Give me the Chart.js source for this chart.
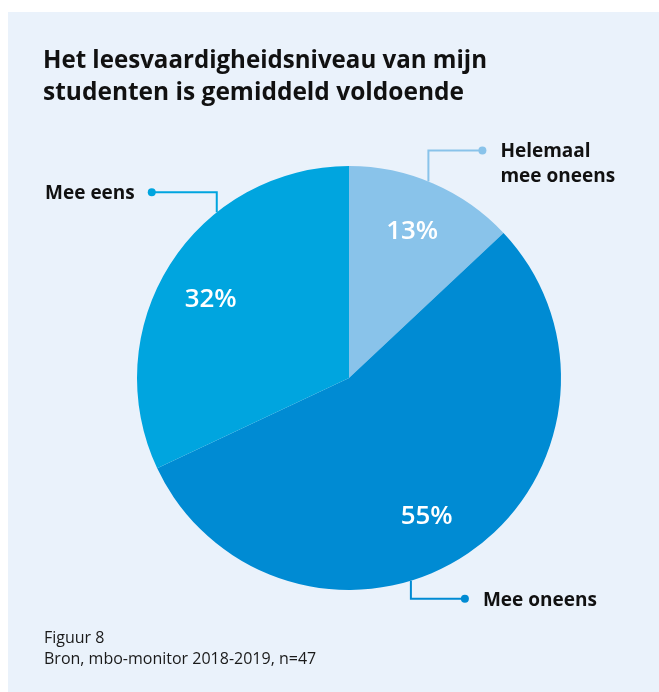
<!DOCTYPE html>
<html>
<head>
<meta charset="utf-8">
<script src="https://cdn.jsdelivr.net/npm/chart.js@4"></script>
<style>
  body { margin: 0; background: #fff; }
  canvas { display: block; }
</style>
</head>
<body>
<canvas id="pieChart" width="659" height="692"></canvas>
<script>
const categories = ["Helemaal mee oneens", "Mee oneens", "Mee eens"];
const percentages = [13, 55, 32];
const sliceColors = ["#89c3ea", "#008bd3", "#00a5df"];
const calloutLines = [["Helemaal", "mee oneens"], ["Mee oneens"], ["Mee eens"]];
const titleLines = ["Het leesvaardigheidsniveau van mijn", "studenten is gemiddeld voldoende"];
const footerLines = ["Figuur 8", "Bron, mbo-monitor 2018-2019, n=47"];

// where each callout leaves the slice and how it is drawn (style only)
const calloutStyle = [
    { frac: 0.47, rise: -31, run: 54, side: "right" },
    { frac: 0.587, rise: 18, run: 54, side: "right" },
    { frac: 0.665, rise: -20, run: -65, side: "left" }
];
const pctFrac = [0.5, 0.525, 0.475];

const bgPanel = {
    id: "bgPanel",
    beforeDraw(chart) {
        const ctx = chart.ctx;
        ctx.save();
        ctx.fillStyle = "#ffffff";
        ctx.fillRect(0, 0, chart.width, chart.height);
        ctx.fillStyle = "#eaf2fb";
        ctx.fillRect(8, 12, chart.width - 8, chart.height - 12);

        // title
        ctx.fillStyle = "#111111";
        ctx.textBaseline = "alphabetic";
        ctx.textAlign = "left";
        ctx.font = "bold 25px 'Open Sans', sans-serif";
        ctx.fillText(titleLines[0], 43, 68, 444);
        ctx.fillText(titleLines[1], 43, 100, 421);

        // footer
        ctx.font = "16px 'Open Sans', sans-serif";
        ctx.fillStyle = "#1a1a1a";
        ctx.fillText(footerLines[0], 44, 643);
        ctx.fillText(footerLines[1], 44, 664);
        ctx.restore();
    }
};

const sliceLabels = {
    id: "sliceLabels",
    afterDatasetsDraw(chart) {
        const ctx = chart.ctx;
        const arcs = chart.getDatasetMeta(0).data;
        ctx.save();
        arcs.forEach((arc, i) => {
            const p = arc.getProps(["x", "y", "startAngle", "endAngle", "outerRadius"], true);
            const span = p.endAngle - p.startAngle;

            // percentage inside the slice
            const ma = p.startAngle + span * pctFrac[i];
            const lr = p.outerRadius * 0.75;
            ctx.fillStyle = "#ffffff";
            ctx.font = "600 26px 'Open Sans', sans-serif";
            ctx.textAlign = "center";
            ctx.textBaseline = "middle";
            ctx.fillText(percentages[i] + "%", p.x + lr * Math.cos(ma), p.y + lr * Math.sin(ma), 52);

            // callout
            const st = calloutStyle[i];
            const a = p.startAngle + span * st.frac;
            const ax = p.x + p.outerRadius * Math.cos(a);
            const ay = p.y + p.outerRadius * Math.sin(a);
            const ey = ay + st.rise;
            const dx = ax + st.run;
            ctx.strokeStyle = sliceColors[i];
            ctx.fillStyle = sliceColors[i];
            ctx.lineWidth = 2;
            ctx.beginPath();
            ctx.moveTo(ax, ay);
            ctx.lineTo(ax, ey);
            ctx.lineTo(dx, ey);
            ctx.stroke();
            ctx.beginPath();
            ctx.arc(dx, ey, 4, 0, Math.PI * 2);
            ctx.fill();

            ctx.fillStyle = "#111111";
            ctx.font = "bold 19px 'Open Sans', sans-serif";
            ctx.textBaseline = "alphabetic";
            const lines = calloutLines[i];
            lines.forEach((line, j) => {
                const by = ey + 7 + j * 25;
                if (st.side === "right") {
                    ctx.textAlign = "left";
                    ctx.fillText(line, dx + 18, by, j === 0 && lines.length > 1 ? 92 : 117);
                } else {
                    ctx.textAlign = "right";
                    ctx.fillText(line, dx - 17, by, 92);
                }
            });
        });
        ctx.restore();
    }
};

const ctx = document.getElementById("pieChart").getContext("2d");
new Chart(ctx, {
    type: "pie",
    data: {
        labels: categories,
        datasets: [{
            data: percentages,
            backgroundColor: sliceColors,
            borderWidth: 0,
            hoverOffset: 0
        }]
    },
    options: {
        responsive: false,
        animation: false,
        events: [],
        layout: { padding: { left: 136, right: 97, top: 166, bottom: 102 } },
        plugins: {
            legend: { display: false },
            title: { display: false },
            tooltip: { enabled: false }
        }
    },
    plugins: [bgPanel, sliceLabels]
});
</script>
</body>
</html>
